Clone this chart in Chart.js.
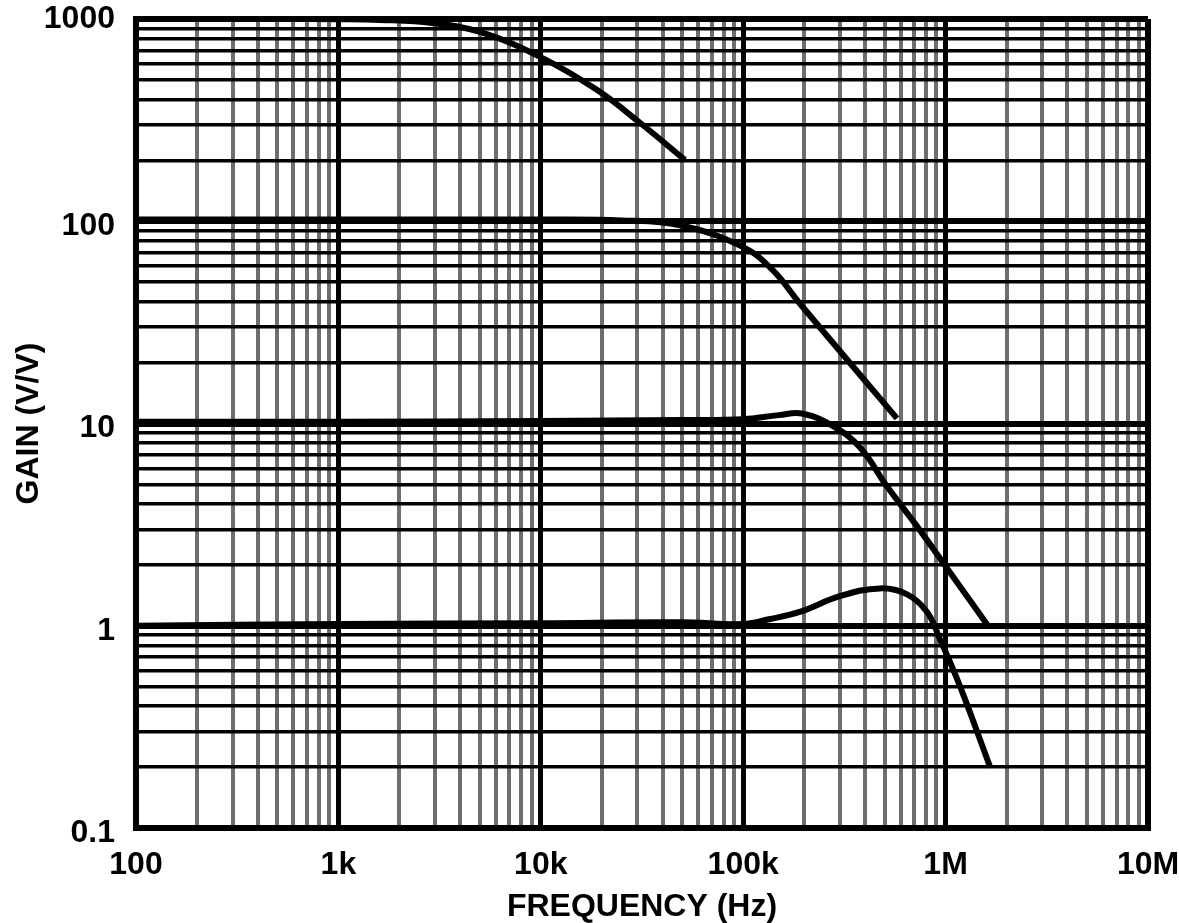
<!DOCTYPE html>
<html>
<head>
<meta charset="utf-8">
<title>Gain vs Frequency</title>
<script src="https://cdn.jsdelivr.net/npm/chart.js@4"></script>
<style>
  html, body { margin: 0; padding: 0; background: #fff; }
  canvas { display: block; }
</style>
</head>
<body>
<canvas id="chart" width="1179" height="923"></canvas>
<script>
// Decades on each axis and the labels printed at them
const xDecades = [100, 1000, 10000, 100000, 1000000, 10000000]
const xTickLabels = ['100', '1k', '10k', '100k', '1M', '10M']
const yDecades = [0.1, 1, 10, 100, 1000]
const yTickLabels = ['0.1', '1', '10', '100', '1000']

// Curves: frequency (Hz) and gain (V/V)
const freq1000 = [100, 500, 1000, 1600, 2900, 5000, 10200, 19000, 31000, 51500]
const gain1000 = [1000, 1000, 998, 990, 955, 863, 641, 445, 306, 201]

const freq100 = [100, 1000, 10000, 25000, 48700, 100000, 140000, 190000, 278000, 575000]
const gain100 = [102, 102, 102, 101, 95.5, 74.5, 57.3, 39.3, 25, 10.6]

const freq10 = [100, 1000, 10000, 50000, 100000, 150000, 195000, 278000, 378000, 513000, 723000, 1000000, 1620000]
const gain10 = [10.2, 10.2, 10.3, 10.4, 10.5, 11, 11.2, 9.7, 7.6, 4.89, 3.1, 1.97, 1.0]

const freq1 = [100, 1000, 10000, 50000, 100000, 136000, 190000, 300000, 474000, 645000, 810000, 938000, 1180000, 1660000]
const gain1 = [1.0, 1.02, 1.03, 1.04, 1.02, 1.08, 1.17, 1.40, 1.53, 1.43, 1.17, 0.857, 0.50, 0.20]

// grid lines at 1..9 x each decade
function gridValues(decades) {
  const vals = []
  decades.forEach((d, i) => {
    if (i === decades.length - 1) { vals.push(d); return }
    for (let k = 1; k <= 9; k++) vals.push(d * k)
  })
  return vals
}

function isDecade(v) {
  const l = Math.log10(v)
  return Math.abs(l - Math.round(l)) < 1e-9
}

function toPoints(xs, ys) {
  return xs.map((x, i) => ({ x: x, y: ys[i] }))
}

const FONT = 'Arial, "Liberation Sans", sans-serif'

const curve = (data) => ({
  data: data,
  borderColor: '#000',
  borderWidth: 6,
  pointRadius: 0,
  fill: false,
  tension: 0.4,
  borderCapStyle: 'butt'
})

new Chart(document.getElementById('chart'), {
  type: 'line',
  data: {
    datasets: [
      curve(toPoints(freq1000, gain1000)),
      curve(toPoints(freq100, gain100)),
      curve(toPoints(freq10, gain10)),
      curve(toPoints(freq1, gain1))
    ]
  },
  options: {
    responsive: false,
    animation: false,
    layout: { padding: { top: 19, right: 31, left: 0, bottom: 0 } },
    plugins: {
      legend: { display: false },
      tooltip: { enabled: false }
    },
    scales: {
      x: {
        type: 'logarithmic',
        min: 100,
        max: 10000000,
        afterBuildTicks: (scale) => {
          scale.ticks = gridValues(xDecades).map(v => ({ value: v }))
        },
        afterFit: (scale) => {
          scale.height = 95
          scale.paddingLeft = 0
          scale.paddingRight = 0
        },
        ticks: {
          autoSkip: false,
          maxRotation: 0,
          padding: 18,
          color: '#000',
          font: { family: FONT, size: 32, weight: 'bold' },
          callback: (value) => {
            const i = xDecades.indexOf(value)
            return i >= 0 ? xTickLabels[i] : ''
          }
        },
        grid: {
          drawTicks: false,
          color: (ctx) => ctx.tick && isDecade(ctx.tick.value) ? '#000' : '#6e6e6e',
          lineWidth: (ctx) => {
            if (!ctx.tick) return 4
            if (ctx.tick.value === 10000000) return 6
            return isDecade(ctx.tick.value) ? 5 : 4
          }
        },
        border: { display: true, color: '#000', width: 6 },
        title: {
          display: true,
          text: 'FREQUENCY (Hz)',
          color: '#000',
          font: { family: FONT, size: 32, weight: 'bold' },
          padding: { top: 0, bottom: -3 }
        }
      },
      y: {
        type: 'logarithmic',
        min: 0.1,
        max: 1000,
        afterBuildTicks: (scale) => {
          scale.ticks = gridValues(yDecades).map(v => ({ value: v }))
        },
        afterFit: (scale) => {
          scale.width = 136
          scale.paddingTop = 0
          scale.paddingBottom = 0
        },
        ticks: {
          autoSkip: false,
          padding: 21,
          color: '#000',
          font: { family: FONT, size: 32, weight: 'bold', lineHeight: 0.32 },
          callback: (value) => {
            const i = yDecades.indexOf(value)
            if (i < 0) return ''
            // labels sit a few px below their line, except the top one
            return i === yDecades.length - 1 ? yTickLabels[i] : ['', yTickLabels[i]]
          }
        },
        grid: {
          drawTicks: false,
          color: '#000',
          lineWidth: (ctx) => ctx.tick && isDecade(ctx.tick.value) ? 6 : 3.5
        },
        border: { display: true, color: '#000', width: 6 },
        title: {
          display: true,
          text: 'GAIN (V/V)',
          color: '#000',
          font: { family: FONT, size: 32, weight: 'bold' },
          padding: { top: 10, bottom: 0 }
        }
      }
    }
  }
})
</script>
</body>
</html>
